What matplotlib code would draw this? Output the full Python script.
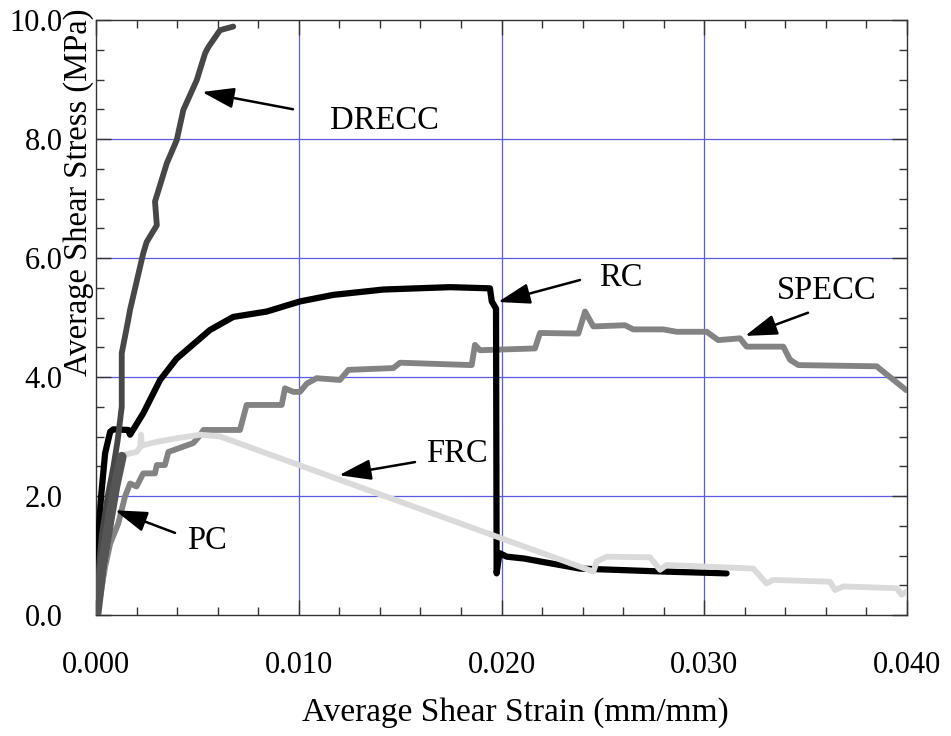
import matplotlib
matplotlib.use("Agg")
import matplotlib.pyplot as plt
from matplotlib.ticker import MultipleLocator

plt.rcParams['font.family'] = ['Liberation Serif', 'DejaVu Serif']

# ---------------- data ----------------
drecc_x = [0.0, 0.00005, 0.00017, 0.0003, 0.00058, 0.00086, 0.00107, 0.00127, 0.00127, 0.00159,
           0.00168, 0.00233, 0.00250, 0.00300, 0.00291, 0.00349, 0.00398, 0.00431, 0.00497,
           0.00538, 0.00555, 0.00612, 0.00677]
drecc_y = [0.0, 0.25, 0.9, 1.37, 2.0, 2.49, 2.94, 3.5, 4.40, 4.96,
           5.13, 6.08, 6.27, 6.55, 6.95, 7.59, 7.98, 8.49, 8.99,
           9.44, 9.55, 9.83, 9.89]

rc_x = [0.0, 0.00008, 0.00025, 0.00045, 0.00070, 0.00085, 0.00159, 0.00168, 0.00233, 0.00316,
        0.00398, 0.00562, 0.00677, 0.00842, 0.01006, 0.0117, 0.01417, 0.01746, 0.01943,
        0.01952, 0.01973, 0.01976, 0.01990, 0.02026, 0.02110, 0.0219, 0.02387, 0.02552,
        0.0280, 0.0311]
rc_y = [0.0, 1.15, 1.99, 2.72, 3.08, 3.12, 3.11, 3.03, 3.39, 3.95,
        4.31, 4.79, 5.01, 5.10, 5.27, 5.38, 5.47, 5.51, 5.49,
        5.27, 5.15, 0.70, 1.04, 0.98, 0.95, 0.90, 0.78, 0.76,
        0.73, 0.70]

frc_x = [0.0, 0.00020, 0.00060, 0.00085, 0.00110, 0.00135, 0.00200, 0.00218, 0.00222, 0.00226,
         0.00300, 0.00398, 0.00513, 0.00612, 0.02453, 0.02470, 0.02519, 0.02732, 0.02782,
         0.02815, 0.03242, 0.03307, 0.03340, 0.03620, 0.03645, 0.03686, 0.03949, 0.03974,
         0.0400]
frc_y = [0.0, 0.30, 1.26, 1.99, 2.61, 2.69, 2.74, 2.82, 3.03, 2.85,
         2.91, 2.97, 3.03, 3.00, 0.73, 0.90, 0.98, 0.97, 0.76,
         0.84, 0.78, 0.53, 0.59, 0.56, 0.42, 0.48, 0.45, 0.34,
         0.40]

specc_x = [0.0, 0.00012, 0.00045, 0.00070, 0.00110, 0.00143, 0.00168, 0.00200, 0.00233, 0.00291,
           0.00300, 0.00340, 0.00357, 0.00480, 0.00513, 0.00530, 0.00710, 0.00743, 0.00916,
           0.00932, 0.00973, 0.01006, 0.01040, 0.01088, 0.01203, 0.01245, 0.01466, 0.01500,
           0.01853, 0.01869, 0.01894, 0.02165, 0.02190, 0.02379, 0.02412, 0.02453, 0.02609,
           0.02650, 0.02798, 0.02864, 0.03012, 0.03069, 0.03176, 0.03209, 0.03390, 0.03423,
           0.03464, 0.03850, 0.03996]
specc_y = [0.0, 0.14, 0.81, 1.20, 1.54, 1.99, 2.21, 2.16, 2.38, 2.38,
           2.52, 2.52, 2.74, 2.89, 3.02, 3.11, 3.11, 3.53, 3.53,
           3.81, 3.75, 3.75, 3.89, 3.98, 3.95, 4.12, 4.15, 4.24,
           4.20, 4.54, 4.45, 4.48, 4.74, 4.73, 5.10, 4.85, 4.87,
           4.80, 4.80, 4.76, 4.76, 4.62, 4.65, 4.51, 4.51, 4.29,
           4.20, 4.18, 3.78]

pc_x = [0.00002, 0.00030, 0.00065, 0.00095, 0.00127]
pc_y = [0.0, 0.80, 1.55, 2.15, 2.66]

labels = ["DRECC", "RC", "SPECC", "FRC", "PC"]
# (text position, arrow tail, arrow head) in data units
label_text_xy = [(0.014205, 8.30), (0.025894, 5.66), (0.036054, 5.45), (0.017805, 2.71), (0.005475, 1.24)]
arrow_tail_xy = [(0.009716, 8.50), (0.023872, 5.63), (0.035117, 5.08), (0.015734, 2.57), (0.003896, 1.38)]
arrow_head_xy = [(0.005228, 8.79), (0.019827, 5.26), (0.032010, 4.69), (0.011985, 2.35), (0.000937, 1.76)]

x_ticks = [0.000, 0.010, 0.020, 0.030, 0.040]
x_ticklabels = ["0.000", "0.010", "0.020", "0.030", "0.040"]
y_ticks = [0.0, 2.0, 4.0, 6.0, 8.0, 10.0]
y_ticklabels = ["0.0", "2.0", "4.0", "6.0", "8.0", "10.0"]

# ---------------- figure ----------------
fig = plt.figure(figsize=(9.51, 7.36), dpi=100)
ax = fig.add_axes([96/951, (736-615)/736, 811/951, 595/736])

ax.set_xlim(0, 0.04)
ax.set_ylim(0, 10)

grid_color = '#5a5ae6'
for gx in x_ticks[1:-1]:
    ax.axvline(gx, color=grid_color, lw=0.9, zorder=1)
for gy in y_ticks[1:-1]:
    ax.axhline(gy, color=grid_color, lw=0.9, zorder=1)

lw = 4.2
kw = dict(solid_joinstyle='round', solid_capstyle='round')
ax.plot(specc_x, specc_y, color='#838383', lw=lw, zorder=3, **kw)
ax.plot(rc_x, rc_y, color='#000000', lw=lw + 0.3, zorder=4, **kw)
ax.plot(frc_x, frc_y, color='#dadada', lw=lw, zorder=5, **kw)
ax.plot(drecc_x, drecc_y, color='#474747', lw=lw, zorder=6, **kw)
ax.plot(pc_x, pc_y, color='#555555', lw=7, zorder=7, **kw)

for lab, txy, tail, head in zip(labels, label_text_xy, arrow_tail_xy, arrow_head_xy):
    ax.text(txy[0], txy[1], lab, fontsize=23.5, ha='center', va='center', zorder=10)
    ax.annotate('', xy=head, xytext=tail,
                arrowprops=dict(arrowstyle='-|>,head_length=1.4,head_width=0.45',
                                mutation_scale=14, color='black', lw=1.8,
                                shrinkA=0, shrinkB=0),
                zorder=10)

ax.set_xticks(x_ticks)
ax.set_xticklabels(x_ticklabels)
ax.set_yticks(y_ticks)
ax.set_yticklabels(y_ticklabels)
ax.xaxis.set_minor_locator(MultipleLocator(0.002))
ax.yaxis.set_minor_locator(MultipleLocator(0.5))
ax.tick_params(which='both', direction='in', top=True, right=True, color='#333333', width=1)
ax.tick_params(which='major', length=11, labelsize=22)
ax.tick_params(axis='x', which='major', pad=26)
ax.tick_params(axis='y', which='major', pad=24)
ax.tick_params(which='minor', length=6)
for s in ax.spines.values():
    s.set_linewidth(1.0)
    s.set_color('#333333')

fig.text(515/951, 1 - 713/736, "Average Shear Strain (mm/mm)", fontsize=24,
         ha='center', va='center')
fig.text(79/951, 1 - 192/736, "Average Shear Stress (MPa)", fontsize=23.5,
         rotation=90, ha='center', va='center')

fig.savefig("out.png", dpi=100)
